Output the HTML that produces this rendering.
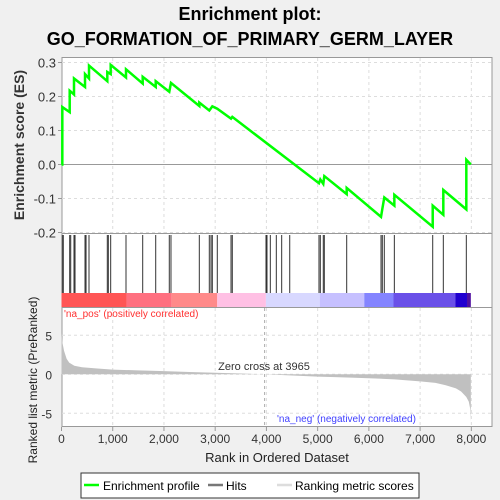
<!DOCTYPE html>
<html><head><meta charset="utf-8"><style>
body{margin:0;background:#f0f0f0;font-family:"Liberation Sans",sans-serif;}
svg{display:block}
</style></head><body>
<svg id="chart" width="500" height="500" viewBox="0 0 500 500" xmlns="http://www.w3.org/2000/svg">
<rect width="500" height="500" fill="#f0f0f0"/>
<text x="250" y="20" text-anchor="middle" font-size="18" font-weight="bold" fill="#000">Enrichment plot:</text>
<text x="250" y="45" text-anchor="middle" font-size="18" font-weight="bold" fill="#000">GO_FORMATION_OF_PRIMARY_GERM_LAYER</text>
<g id="g"></g>
</svg>
<script>
const hitRanks=[16,35,160,180,244,264,459,479,537,894,914,960,1259,1585,1839,2104,2137,2690,2885,2918,2944,3041,3309,3334,3992,4011,4076,4193,4298,4455,5026,5052,5110,5130,5567,6237,6262,6301,6497,7246,7453,7902];
const esRanks=[0,16,16,160,160,244,244,459,459,537,537,894,894,960,960,1259,1259,1585,1585,1839,1839,2104,2137,2690,2690,2885,2944,3041,3309,3334,5026,5052,5110,5130,5567,5567,6237,6262,6301,6497,6497,7246,7246,7453,7453,7902,7902,7990];
const esValues=[0,0,0.169,0.154,0.217,0.206,0.253,0.228,0.266,0.253,0.291,0.245,0.272,0.266,0.293,0.256,0.280,0.238,0.258,0.228,0.245,0.214,0.240,0.172,0.182,0.159,0.171,0.164,0.135,0.140,-0.055,-0.044,-0.057,-0.034,-0.087,-0.069,-0.154,-0.131,-0.097,-0.121,-0.089,-0.183,-0.121,-0.148,-0.075,-0.132,0.014,0];
const metricRanks=[0,20,50,100,150,250,400,700,1000,1500,2000,2500,3000,3500,3965,4500,5000,5500,6000,6500,7000,7300,7500,7700,7800,7900,7950,7980,7990];
const metricValues=[5.3,4,3,2,1.5,1.1,0.9,0.75,0.6,0.5,0.4,0.3,0.2,0.1,0,-0.15,-0.3,-0.4,-0.5,-0.65,-0.9,-1.1,-1.4,-1.8,-2.2,-2.9,-3.5,-4.5,-6];
const barStarts=[0,1270,2150,3040,3990,5040,5910,6480,7690,7915];
const barColors=["#ff5555","#ff7080","#ff8a8a","#ffc0e4","#d8d8ff","#c6c0ff","#8484ff","#6a50e8","#2000d0","#5010a0"];
const esTicks=[0.3,0.2,0.1,0.0,-0.1,-0.2];
const metricTicks=[5,0,-5];
const xTicks=[0,1000,2000,3000,4000,5000,6000,7000,8000];
const xTickLabels=["0","1,000","2,000","3,000","4,000","5,000","6,000","7,000","8,000"];
const N=7990;
const L=62,R=492;
const X=r=>61.5+r*0.05123;
const YE=v=>164.5-v*340;
const YM=v=>374.3-v*7.8;
const NS="http://www.w3.org/2000/svg";
const g=document.getElementById('g');
function mk(t,a,p){const e=document.createElementNS(NS,t);for(const k in a)e.setAttribute(k,a[k]);(p||g).appendChild(e);return e;}
let p1=mk('rect',{x:L,y:57.5,width:R-L,height:176,fill:'#fff',stroke:'#999'});


let p2=mk('rect',{x:L,y:233.5,width:R-L,height:74,fill:'#fff',stroke:'#999'});


let p3=mk('rect',{x:L,y:307.5,width:R-L,height:119,fill:'#fff',stroke:'#999'});


xTicks.forEach(t=>{if(t==0)return;
 mk('line',{x1:X(t),x2:X(t),y1:58,y2:233,stroke:'#ddd','stroke-dasharray':'3,3'});
 mk('line',{x1:X(t),x2:X(t),y1:308,y2:426,stroke:'#ddd','stroke-dasharray':'3,3'});});
esTicks.forEach(t=>{mk('line',{x1:L,x2:R,y1:YE(t),y2:YE(t),stroke:t==0?'#999':'#ddd','stroke-dasharray':t==0?'':'3,3'});
 let tx=mk('text',{x:56,y:YE(t)+5,'text-anchor':'end','font-size':13,fill:'#333'});tx.textContent=t.toFixed(1);
 
 
 mk('line',{x1:58,x2:62,y1:YE(t),y2:YE(t),stroke:'#999'});});
metricTicks.forEach(t=>{mk('line',{x1:L,x2:R,y1:YM(t),y2:YM(t),stroke:'#ddd','stroke-dasharray':'3,3'});
 let tx=mk('text',{x:52,y:YM(t)+5,'text-anchor':'end','font-size':12,fill:'#333'});tx.textContent=t;
 
 });
barStarts.forEach((s,i)=>{const e=i<barStarts.length-1?barStarts[i+1]:N;
 let r=mk('rect',{x:X(s),y:293,width:X(e)-X(s),height:14,fill:barColors[i]});
 
 });
hitRanks.forEach(h=>{let l=mk('line',{x1:X(h),x2:X(h),y1:235,y2:293,stroke:'#333','stroke-width':1});
 
 });
let d='M'+X(0)+','+YM(0);
metricRanks.forEach((r,i)=>{d+=' L'+X(r)+','+YM(metricValues[i]);});
d+=' L'+X(N)+','+YM(0)+'Z';
let ar=mk('path',{d:d,fill:'#c0c0c0'});


mk('line',{x1:X(3965),x2:X(3965),y1:308,y2:426,stroke:'#aaa','stroke-dasharray':'3,3'});
let zc=mk('text',{x:264,y:370,'text-anchor':'middle','font-size':11,fill:'#333'});zc.textContent='Zero cross at 3965';


let pl=mk('text',{x:64,y:317,'font-size':10,fill:'#ff3030'});pl.textContent="'na_pos' (positively correlated)";


let nl=mk('text',{x:277,y:422,'font-size':10,fill:'#4040ff'});nl.textContent="'na_neg' (negatively correlated)";


let pd=esRanks.map((r,i)=>(i?'L':'M')+X(r)+','+YE(esValues[i])).join(' ');
let es=mk('path',{d:pd,fill:'none',stroke:'#00ff00','stroke-width':2.5});


xTicks.forEach((t,i)=>{mk('line',{x1:X(t),x2:X(t),y1:427,y2:431,stroke:'#999'});
 let tx=mk('text',{x:X(t),y:443,'text-anchor':'middle','font-size':12,fill:'#333'});tx.textContent=xTickLabels[i];
 
 });
let xt=mk('text',{x:277,y:462,'text-anchor':'middle','font-size':13,fill:'#222'});xt.textContent='Rank in Ordered Dataset';


let yt=mk('text',{x:0,y:0,'text-anchor':'middle','font-size':14,'font-weight':'bold',fill:'#333',transform:'translate(24,145) rotate(-90)'});yt.textContent='Enrichment score (ES)';


let yt2=mk('text',{x:0,y:0,'text-anchor':'middle','font-size':12,fill:'#222',transform:'translate(37,380) rotate(-90)'});yt2.textContent='Ranked list metric (PreRanked)';


let lg=mk('g',{});


mk('rect',{x:81,y:473,width:338,height:25,fill:'#fff',stroke:'#333'},lg);
mk('line',{x1:84,x2:99,y1:485,y2:485,stroke:'#00ff00','stroke-width':2.5},lg);
let t1=mk('text',{x:103,y:490,'font-size':12,fill:'#000'},lg);t1.textContent='Enrichment profile';


mk('line',{x1:208,x2:223,y1:485,y2:485,stroke:'#777','stroke-width':2.5},lg);
let t2=mk('text',{x:226,y:490,'font-size':12,fill:'#000'},lg);t2.textContent='Hits';


mk('line',{x1:277,x2:292,y1:485,y2:485,stroke:'#ddd','stroke-width':2.5},lg);
let t3=mk('text',{x:295,y:490,'font-size':12,fill:'#000'},lg);t3.textContent='Ranking metric scores';


</script>
</body></html>
